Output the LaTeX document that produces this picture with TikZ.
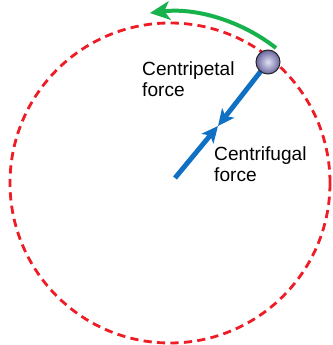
\documentclass[tikz,border=0pt]{standalone}
\usepackage{fontspec}
\setmainfont{Liberation Sans}
\usetikzlibrary{arrows.meta, calc}
\definecolor{cOrbit}{HTML}{EE1C24}
\definecolor{cForce}{HTML}{1070C4}
\definecolor{cMotion}{HTML}{17B24C}
\definecolor{cBall}{HTML}{8C88D4}
\tikzset{
  orbit/.style={
    draw=cOrbit, line width=2.4pt,
    dash pattern=on 7pt off 4.5pt
  },
  forcearrow/.style={
    -{Stealth[length=14pt,width=13pt,inset=3.5pt]},
    line width=4.2pt,
    draw=cForce
  },
  motion/.style={
    -{Stealth[length=17pt,width=16pt,inset=4.5pt]},
    line width=3.4pt,
    draw=cMotion
  },
  mass/.style={
    circle, draw=black!85, line width=0.9pt,
    shading=radial, inner color=cBall!25!white, outer color=cBall!75!black,
    minimum size=0.72cm, inner sep=0pt
  },
  label/.style={
    font=\fontsize{16.3}{18}\selectfont,
    align=left,
    inner sep=0pt
  }
}

\begin{document}
\begin{tikzpicture}[x=0.03cm, y=0.03cm]
  \useasboundingbox (0,0) rectangle (332,345);
  \coordinate (centre) at (170,162);
  \coordinate (axis) at (175,167);
  \coordinate (meet) at (218,219);
  \coordinate (sweep) at (276,297);

  \draw[orbit] (centre) circle[radius=160];

  \draw[forcearrow] (axis) -- (meet);
  \node[circle, minimum size=0.72cm, inner sep=0pt] (ball) at (268,283) {};
  \draw[forcearrow] (ball.center) -- (meet);
  \node[mass] at (ball) {};

  \draw[motion] (sweep) arc[start angle=52, end angle=97, radius=171];

  \node[label, anchor=north west] (cp) at (142,284) {Centripetal\\force};
  \node[label, anchor=north west] (cf) at (214,199) {Centrifugal\\force};
\end{tikzpicture}
\end{document}
